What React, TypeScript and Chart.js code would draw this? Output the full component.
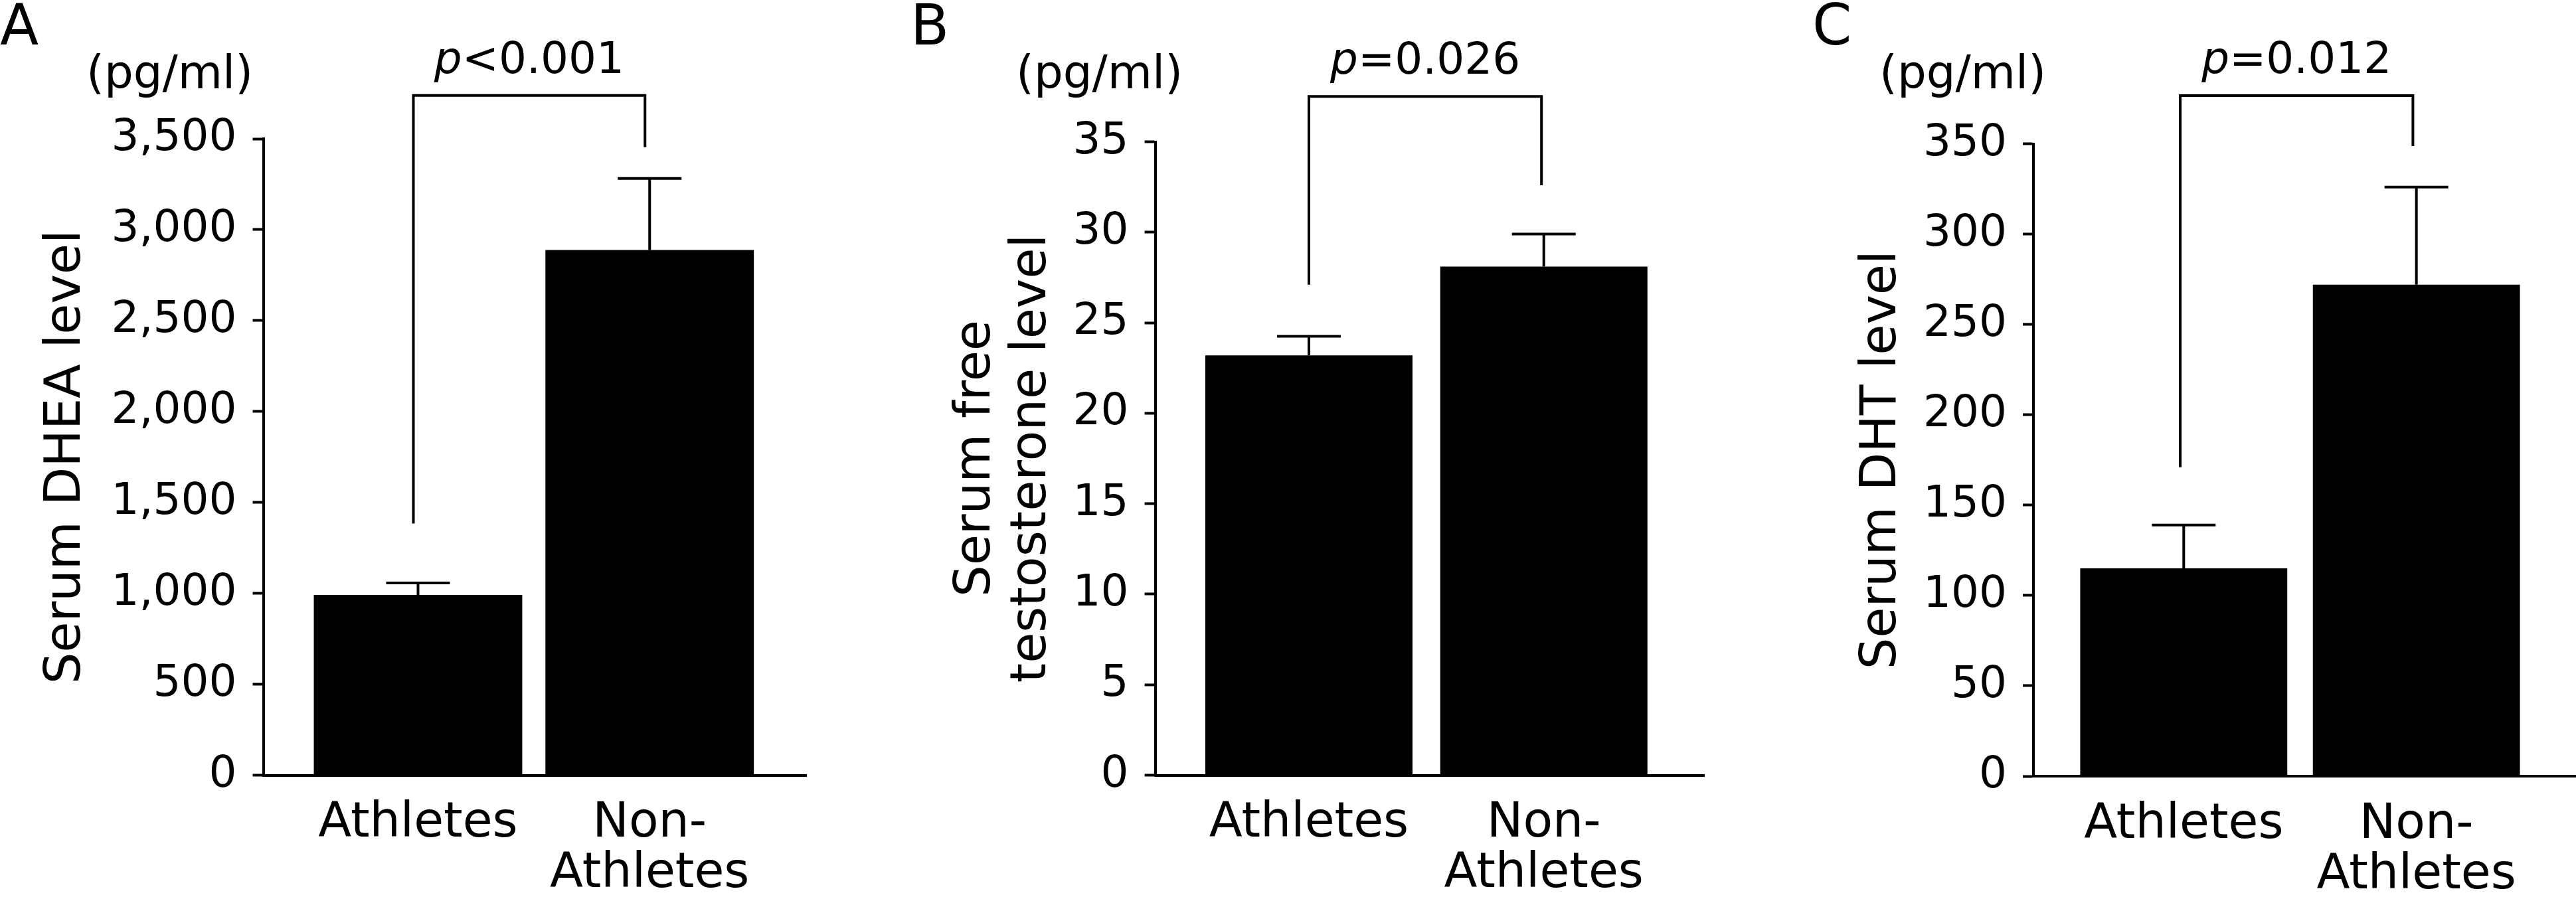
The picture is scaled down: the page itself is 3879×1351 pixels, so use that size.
import React, { useEffect, useRef } from 'react';
import { Chart, registerables } from 'chart.js';

Chart.register(...registerables);

const FONT = "'DejaVu Sans', Verdana, sans-serif";
const H = 1351;

// ---- shared categories ----
const categories = ['Athletes', 'Non-Athletes'];
const categoryTickLabels = [['Athletes'], ['Non-', 'Athletes']];
const barPositions = [1, 2];

// ---- Panel A: DHEA ----
const dheaMeans = [991, 2888];
const dheaErrors = [66, 394];
const dheaTicks = [0, 500, 1000, 1500, 2000, 2500, 3000, 3500];
const dheaBracket = [1384, 3738, 3454]; // left foot, top, right foot
const dheaPValue = '<0.001';

// ---- Panel B: free testosterone ----
const freeTMeans = [23.2, 28.1];
const freeTErrors = [1.05, 1.8];
const freeTTicks = [0, 5, 10, 15, 20, 25, 30, 35];
const freeTBracket = [27.1, 37.5, 32.6];
const freeTPValue = '=0.026';

// ---- Panel C: DHT ----
const dhtMeans = [115, 272];
const dhtErrors = [24, 54];
const dhtTicks = [0, 50, 100, 150, 200, 250, 300, 350];
const dhtBracket = [171, 376.6, 348.7];
const dhtPValue = '=0.012';

const panels = [
  {
    key: 'A', letter: 'A', letterX: 0, unitsX: 130,
    canvasLeft: 0, width: 1300, left: 396.5, right: 1214, top: 209, bottom: 1167.5,
    xMin: 0.332, xMax: 2.676, barPct: 0.9,
    title: 'Serum DHEA level', titlePad: 59.5,
    means: dheaMeans, errors: dheaErrors, ticks: dheaTicks, bracket: dheaBracket,
    bracketX: [0.98, 1.98], pValue: dheaPValue,
    fmt: (v: number) => v.toLocaleString('en-US'),
  },
  {
    key: 'B', letter: 'B', letterX: 71, unitsX: 230,
    canvasLeft: 1300, width: 1300, left: 439.6, right: 1266, top: 213.5, bottom: 1167.5,
    xMin: 0.346, xMax: 2.682, barPct: 0.882,
    title: ['Serum free', 'testosterone level'], titlePad: 129.5,
    means: freeTMeans, errors: freeTErrors, ticks: freeTTicks, bracket: freeTBracket,
    bracketX: [1.0, 1.99], pValue: freeTPValue,
    fmt: (v: number) => String(v),
  },
  {
    key: 'C', letter: 'C', letterX: 129, unitsX: 230,
    canvasLeft: 2600, width: 1279, left: 462, right: 1279, top: 216.5, bottom: 1169,
    xMin: 0.354, xMax: 2.686, barPct: 0.89,
    title: 'Serum DHT level', titlePad: 193.5,
    means: dhtMeans, errors: dhtErrors, ticks: dhtTicks, bracket: dhtBracket,
    bracketX: [0.985, 1.985], pValue: dhtPValue,
    fmt: (v: number) => String(v),
  },
];

function Panel({ panel }: { panel: any }) {
  const ref = useRef<HTMLCanvasElement | null>(null);

  useEffect(() => {
    const canvas = ref.current;
    if (!canvas) return;

    const annot = {
      id: 'annot' + panel.key,
      afterDraw(chart: any) {
        const { ctx } = chart;
        const xs = chart.scales.x;
        const ys = chart.scales.y;
        ctx.save();
        ctx.strokeStyle = '#000';
        ctx.fillStyle = '#000';
        ctx.lineWidth = 4;
        ctx.lineCap = 'butt';
        ctx.lineJoin = 'miter';

        // error bars (upper only)
        const capHalf = 48;
        panel.means.forEach((m: number, i: number) => {
          const px = xs.getPixelForValue(barPositions[i]);
          const yb = ys.getPixelForValue(m);
          const yt = ys.getPixelForValue(m + panel.errors[i]);
          ctx.beginPath();
          ctx.moveTo(px, yb);
          ctx.lineTo(px, yt);
          ctx.moveTo(px - capHalf, yt);
          ctx.lineTo(px + capHalf, yt);
          ctx.stroke();
        });

        // significance bracket
        const xl = xs.getPixelForValue(panel.bracketX[0]);
        const xr = xs.getPixelForValue(panel.bracketX[1]);
        const yl = ys.getPixelForValue(panel.bracket[0]);
        const ytop = ys.getPixelForValue(panel.bracket[1]);
        const yr = ys.getPixelForValue(panel.bracket[2]);
        ctx.beginPath();
        ctx.moveTo(xl, yl);
        ctx.lineTo(xl, ytop);
        ctx.lineTo(xr, ytop);
        ctx.lineTo(xr, yr);
        ctx.stroke();

        // p-value text
        ctx.textBaseline = 'alphabetic';
        ctx.textAlign = 'left';
        const italic = `italic 66px ${FONT}`;
        const normal = `66px ${FONT}`;
        ctx.font = italic;
        const wp = ctx.measureText('p').width;
        ctx.font = normal;
        const wr = ctx.measureText(panel.pValue).width;
        const cx = (xl + xr) / 2;
        const sx = cx - (wp + wr) / 2;
        const by = ytop - 34;
        ctx.font = italic;
        ctx.fillText('p', sx, by);
        ctx.font = normal;
        ctx.fillText(panel.pValue, sx + wp, by);

        // panel letter
        ctx.font = `85px ${FONT}`;
        ctx.fillText(panel.letter, panel.letterX, 67);

        // units
        ctx.font = `69px ${FONT}`;
        ctx.fillText('(pg/ml)', panel.unitsX, 133);

        ctx.restore();
      },
    };

    const chart = new Chart(canvas, {
      type: 'bar',
      data: {
        labels: categories,
        datasets: [
          {
            label: 'mean',
            data: barPositions.map((x, i) => ({ x, y: panel.means[i] })),
            backgroundColor: '#000',
            borderWidth: 0,
            barPercentage: panel.barPct,
            categoryPercentage: 1,
          },
        ],
      },
      options: {
        responsive: false,
        animation: false,
        devicePixelRatio: 1,
        layout: {
          padding: { left: 0, top: panel.top, right: panel.width - panel.right, bottom: 0 },
        },
        plugins: {
          legend: { display: false },
          tooltip: { enabled: false },
          title: { display: false },
        },
        scales: {
          x: {
            type: 'linear',
            min: panel.xMin,
            max: panel.xMax,
            bounds: 'data',
            offset: false,
            afterBuildTicks: (s: any) => {
              s.ticks = barPositions.map((v) => ({ value: v }));
            },
            afterFit: (s: any) => {
              s.height = H - panel.bottom;
            },
            grid: { display: false, drawTicks: false },
            border: { display: true, color: '#000', width: 4 },
            ticks: {
              color: '#000',
              font: { family: FONT, size: 73, lineHeight: 1.04 },
              padding: 36,
              maxRotation: 0,
              minRotation: 0,
              autoSkip: false,
              callback: (v: any) => {
                const idx = barPositions.indexOf(Number(v));
                return idx >= 0 ? categoryTickLabels[idx] : '';
              },
            },
          },
          y: {
            type: 'linear',
            min: panel.ticks[0],
            max: panel.ticks[panel.ticks.length - 1],
            afterBuildTicks: (s: any) => {
              s.ticks = panel.ticks.map((v: number) => ({ value: v }));
            },
            afterFit: (s: any) => {
              s.width = panel.left;
            },
            grid: {
              display: true,
              drawOnChartArea: false,
              drawTicks: true,
              tickLength: 16,
              tickWidth: 4,
              tickColor: '#000',
            },
            border: { display: true, color: '#000', width: 4 },
            ticks: {
              color: '#000',
              font: { family: FONT, size: 66 },
              padding: 24,
              callback: (v: any) => panel.fmt(Number(v)),
            },
            title: {
              display: true,
              text: panel.title,
              color: '#000',
              font: { family: FONT, size: 75, lineHeight: 1.107 },
              padding: { top: panel.titlePad, bottom: 0 },
            },
          },
        },
      } as any,
      plugins: [annot],
    });

    return () => chart.destroy();
  }, [panel]);

  return (
    <canvas
      ref={ref}
      width={panel.width}
      height={H}
      style={{ position: 'absolute', left: panel.canvasLeft, top: 0, width: panel.width, height: H, display: 'block' }}
    />
  );
}

export default function App() {
  return (
    <div
      style={{
        position: 'absolute',
        left: 0,
        top: 0,
        width: 3879,
        height: H,
        background: '#fff',
        overflow: 'hidden',
      }}
    >
      {panels.map((p) => (
        <Panel key={p.key} panel={p} />
      ))}
    </div>
  );
}
